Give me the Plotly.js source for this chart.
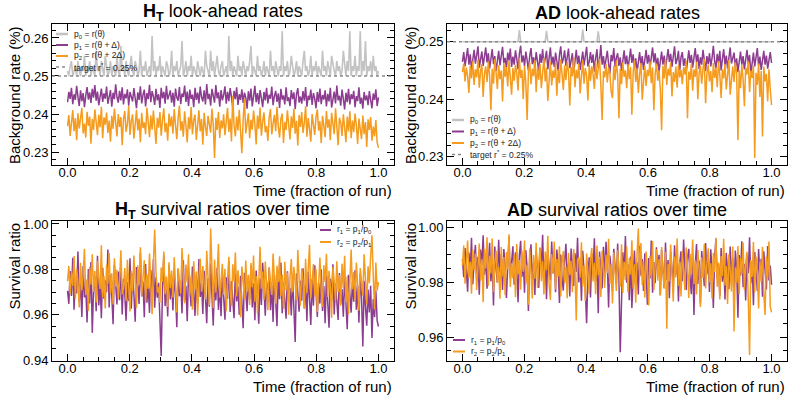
<!DOCTYPE html>
<html><head><meta charset="utf-8">
<script src="https://cdn.plot.ly/plotly-3.0.1.min.js"></script>
<style>html,body{margin:0;padding:0;background:#fff}#chart{width:797px;height:403px}</style>
</head><body><div id="chart"></div>
<script>
// ---------------- DATA ----------------
const targetRate = 0.25;
const xTickVals = [0.0, 0.2, 0.4, 0.6, 0.8, 1.0];

// H_T look-ahead rates (%)
const htP0 = [
0.2513,0.2500,0.2526,0.2539,0.2500,0.2513,0.2526,0.2500,0.2539,0.2513,
0.2500,0.2526,0.2513,0.2553,0.2500,0.2526,0.2513,0.2539,0.2500,0.2526,
0.2513,0.2500,0.2566,0.2513,0.2526,0.2500,0.2539,0.2513,0.2500,0.2553,
0.2526,0.2500,0.2513,0.2539,0.2500,0.2526,0.2513,0.2500,0.2553,0.2513,
0.2500,0.2579,0.2513,0.2526,0.2500,0.2539,0.2513,0.2500,0.2526,0.2553,
0.2513,0.2500,0.2539,0.2526,0.2500,0.2513,0.2566,0.2500,0.2526,0.2513,
0.2539,0.2500,0.2513,0.2526,0.2500,0.2605,0.2513,0.2539,0.2500,0.2526,
0.2513,0.2553,0.2500,0.2526,0.2513,0.2500,0.2539,0.2526,0.2500,0.2513,
0.2566,0.2500,0.2526,0.2513,0.2539,0.2500,0.2513,0.2526,0.2592,0.2500,
0.2513,0.2539,0.2500,0.2526,0.2513,0.2553,0.2500,0.2526,0.2513,0.2500,
0.2539,0.2513,0.2500,0.2526,0.2513,0.2500,0.2566,0.2526,0.2513,0.2500,
0.2566,0.2513,0.2539,0.2500,0.2526,0.2553,0.2513,0.2500,0.2526,0.2539,
0.2500,0.2513,0.2526,0.2500,0.2605,0.2513,0.2539,0.2500,0.2526,0.2513,
0.2500,0.2553,0.2513,0.2526,0.2500,0.2539,0.2513,0.2500,0.2526,0.2513,
0.2539,0.2579,0.2500,0.2526,0.2513,0.2500,0.2553,0.2513,0.2526,0.2500,
0.2513,0.2539,0.2500,0.2526,0.2513,0.2500,0.2566,0.2513,0.2526,0.2500,
0.2539,0.2513,0.2500,0.2526,0.2513,0.2618,0.2500,0.2526,0.2513,0.2539,
0.2500,0.2513,0.2553,0.2526,0.2500,0.2513,0.2539,0.2500,0.2526,0.2513,
0.2500,0.2539,0.2566,0.2513,0.2526,0.2500,0.2513,0.2553,0.2500,0.2526,
0.2513,0.2539,0.2500,0.2526,0.2513,0.2500,0.2566,0.2513,0.2526,0.2500,
0.2539,0.2513,0.2500,0.2553,0.2526,0.2513,0.2500,0.2539,0.2513,0.2526,
0.2500,0.2513,0.2566,0.2526,0.2500,0.2539,0.2513,0.2618,0.2500,0.2526,
0.2513,0.2553,0.2500,0.2526,0.2513,0.2618,0.2500,0.2539,0.2513,0.2592,
0.2500,0.2526,0.2513,0.2539,0.2500,0.2553,0.2513,0.2526,0.2500,0.2513];
const htP1 = [
0.2431,0.2458,0.2440,0.2469,0.2426,0.2452,0.2437,0.2474,0.2445,0.2421,
0.2462,0.2434,0.2455,0.2418,0.2449,0.2471,0.2438,0.2457,0.2429,0.2466,
0.2443,0.2476,0.2435,0.2459,0.2423,0.2451,0.2467,0.2432,0.2454,0.2440,
0.2472,0.2427,0.2448,0.2463,0.2419,0.2456,0.2439,0.2478,0.2444,0.2430,
0.2461,0.2436,0.2470,0.2425,0.2453,0.2441,0.2465,0.2422,0.2458,0.2447,
0.2433,0.2468,0.2442,0.2415,0.2457,0.2437,0.2473,0.2428,0.2450,0.2464,
0.2420,0.2455,0.2439,0.2477,0.2431,0.2460,0.2446,0.2424,0.2466,0.2436,
0.2452,0.2416,0.2469,0.2441,0.2458,0.2427,0.2474,0.2438,0.2449,0.2462,
0.2430,0.2456,0.2419,0.2467,0.2443,0.2435,0.2471,0.2426,0.2454,0.2445,
0.2475,0.2432,0.2459,0.2421,0.2464,0.2440,0.2451,0.2418,0.2469,0.2437,
0.2456,0.2428,0.2472,0.2444,0.2433,0.2462,0.2425,0.2479,0.2439,0.2453,
0.2422,0.2466,0.2448,0.2430,0.2476,0.2441,0.2457,0.2419,0.2463,0.2436,
0.2450,0.2473,0.2427,0.2458,0.2434,0.2468,0.2445,0.2417,0.2461,0.2439,
0.2470,0.2424,0.2452,0.2437,0.2465,0.2429,0.2456,0.2443,0.2414,0.2460,
0.2435,0.2467,0.2420,0.2449,0.2474,0.2431,0.2455,0.2426,0.2463,0.2442,
0.2418,0.2458,0.2436,0.2469,0.2428,0.2451,0.2440,0.2472,0.2423,0.2447,
0.2461,0.2432,0.2454,0.2416,0.2466,0.2438,0.2449,0.2425,0.2470,0.2434,
0.2444,0.2421,0.2463,0.2439,0.2457,0.2413,0.2452,0.2468,0.2430,0.2446,
0.2427,0.2460,0.2435,0.2471,0.2419,0.2448,0.2437,0.2464,0.2424,0.2455,
0.2441,0.2415,0.2458,0.2432,0.2467,0.2426,0.2450,0.2438,0.2462,0.2420,
0.2453,0.2433,0.2469,0.2417,0.2445,0.2459,0.2428,0.2475,0.2436,0.2448,
0.2422,0.2464,0.2440,0.2412,0.2456,0.2431,0.2466,0.2425,0.2452,0.2439,
0.2461,0.2418,0.2447,0.2434,0.2470,0.2427,0.2443,0.2414,0.2458,0.2436,
0.2449,0.2423,0.2460,0.2430,0.2415,0.2454,0.2437,0.2465,0.2421,0.2444];
const htP2 = [
0.2368,0.2397,0.2342,0.2381,0.2410,0.2355,0.2389,0.2331,0.2402,0.2362,
0.2384,0.2416,0.2349,0.2375,0.2338,0.2406,0.2369,0.2393,0.2322,0.2387,
0.2358,0.2412,0.2379,0.2344,0.2398,0.2365,0.2419,0.2336,0.2391,0.2372,
0.2404,0.2350,0.2383,0.2327,0.2395,0.2361,0.2414,0.2377,0.2341,0.2400,
0.2366,0.2392,0.2318,0.2386,0.2408,0.2353,0.2374,0.2421,0.2345,0.2382,
0.2399,0.2335,0.2370,0.2411,0.2357,0.2388,0.2326,0.2403,0.2363,0.2378,
0.2347,0.2417,0.2380,0.2339,0.2396,0.2359,0.2409,0.2373,0.2321,0.2390,
0.2364,0.2405,0.2343,0.2385,0.2415,0.2352,0.2376,0.2330,0.2401,0.2367,
0.2394,0.2348,0.2413,0.2371,0.2334,0.2389,0.2422,0.2356,0.2381,0.2340,
0.2407,0.2369,0.2325,0.2392,0.2360,0.2418,0.2346,0.2384,0.2398,0.2332,
0.2375,0.2410,0.2354,0.2387,0.2319,0.2403,0.2366,0.2342,0.2395,0.2378,
0.2351,0.2414,0.2372,0.2284,0.2390,0.2358,0.2406,0.2337,0.2383,0.2362,
0.2399,0.2344,0.2379,0.2416,0.2353,0.2388,0.2328,0.2448,0.2370,0.2341,
0.2393,0.2357,0.2411,0.2365,0.2297,0.2386,0.2440,0.2349,0.2377,0.2402,
0.2336,0.2385,0.2359,0.2409,0.2373,0.2320,0.2396,0.2361,0.2417,0.2343,
0.2380,0.2404,0.2352,0.2368,0.2329,0.2391,0.2413,0.2346,0.2375,0.2398,
0.2355,0.2419,0.2367,0.2338,0.2387,0.2401,0.2324,0.2379,0.2358,0.2410,
0.2371,0.2333,0.2394,0.2363,0.2414,0.2348,0.2382,0.2317,0.2397,0.2366,
0.2405,0.2350,0.2376,0.2420,0.2340,0.2389,0.2361,0.2327,0.2400,0.2372,
0.2345,0.2392,0.2412,0.2356,0.2381,0.2323,0.2395,0.2369,0.2339,0.2408,
0.2364,0.2386,0.2331,0.2403,0.2374,0.2347,0.2415,0.2357,0.2318,0.2390,
0.2378,0.2342,0.2399,0.2365,0.2326,0.2393,0.2354,0.2407,0.2336,0.2383,
0.2352,0.2401,0.2370,0.2321,0.2388,0.2360,0.2334,0.2396,0.2347,0.2379,
0.2313,0.2386,0.2358,0.2392,0.2330,0.2367,0.2341,0.2384,0.2325,0.2311];

// AD look-ahead rates (%)
const adP0 = [
0.25,0.25,0.25,0.25,0.25,0.25,0.25,0.25,0.25,0.25,0.25,0.25,0.25,0.25,0.25,0.25,0.25,0.25,0.25,0.25,
0.25,0.25,0.25,0.25,0.25,0.25,0.25,0.25,0.25,0.25,0.25,0.25,0.25,0.25,0.25,0.25,0.25,0.25,0.25,0.25,
0.25,0.25,0.25,0.25,0.2520,0.25,0.25,0.25,0.25,0.25,0.25,0.25,0.25,0.25,0.25,0.25,0.25,0.25,0.25,0.25,
0.25,0.25,0.25,0.25,0.25,0.2519,0.25,0.25,0.25,0.25,0.25,0.25,0.25,0.25,0.25,0.25,0.25,0.25,0.25,0.25,
0.25,0.25,0.25,0.25,0.25,0.25,0.25,0.25,0.25,0.25,0.25,0.25,0.25,0.2521,0.25,0.25,0.25,0.25,0.25,0.25,
0.25,0.25,0.25,0.25,0.25,0.2518,0.25,0.25,0.25,0.25,0.25,0.25,0.25,0.25,0.25,0.25,0.25,0.25,0.25,0.25,
0.25,0.25,0.25,0.25,0.25,0.25,0.25,0.25,0.25,0.25,0.25,0.25,0.25,0.25,0.25,0.25,0.25,0.25,0.25,0.25,
0.25,0.25,0.25,0.25,0.25,0.25,0.25,0.25,0.25,0.25,0.25,0.25,0.25,0.25,0.25,0.25,0.25,0.25,0.25,0.25,
0.25,0.25,0.25,0.25,0.25,0.25,0.25,0.25,0.25,0.25,0.25,0.25,0.25,0.25,0.25,0.25,0.25,0.25,0.25,0.25,
0.25,0.25,0.25,0.25,0.25,0.25,0.25,0.25,0.25,0.25,0.25,0.25,0.25,0.25,0.25,0.25,0.25,0.25,0.25,0.25,
0.25,0.25,0.25,0.25,0.25,0.25,0.25,0.25,0.25,0.25,0.25,0.25,0.25,0.25,0.25,0.25,0.25,0.25,0.25,0.25,
0.25,0.25,0.25,0.25,0.25,0.25,0.25,0.25,0.25,0.25,0.25,0.25,0.25,0.25,0.25,0.25,0.25,0.25,0.25,0.25];
const adP1 = [
0.2465,0.2482,0.2457,0.2474,0.2489,0.2460,0.2478,0.2451,0.2469,0.2486,
0.2462,0.2476,0.2492,0.2455,0.2471,0.2483,0.2458,0.2473,0.2490,0.2464,
0.2480,0.2453,0.2468,0.2487,0.2461,0.2475,0.2449,0.2470,0.2484,0.2459,
0.2477,0.2491,0.2463,0.2472,0.2454,0.2481,0.2467,0.2488,0.2456,0.2474,
0.2460,0.2485,0.2470,0.2452,0.2479,0.2493,0.2464,0.2476,0.2458,0.2483,
0.2468,0.2450,0.2475,0.2489,0.2461,0.2473,0.2455,0.2482,0.2466,0.2447,
0.2479,0.2463,0.2487,0.2457,0.2471,0.2484,0.2452,0.2469,0.2490,0.2460,
0.2474,0.2456,0.2481,0.2466,0.2449,0.2477,0.2492,0.2462,0.2470,0.2485,
0.2458,0.2473,0.2488,0.2454,0.2467,0.2480,0.2446,0.2472,0.2486,0.2461,
0.2476,0.2451,0.2469,0.2483,0.2459,0.2474,0.2491,0.2457,0.2465,0.2482,
0.2463,0.2478,0.2448,0.2471,0.2487,0.2455,0.2468,0.2494,0.2460,0.2475,
0.2453,0.2470,0.2484,0.2462,0.2445,0.2477,0.2466,0.2489,0.2456,0.2472,
0.2480,0.2458,0.2473,0.2449,0.2467,0.2485,0.2461,0.2476,0.2452,0.2470,
0.2488,0.2463,0.2478,0.2455,0.2471,0.2447,0.2466,0.2482,0.2459,0.2475,
0.2451,0.2469,0.2486,0.2462,0.2477,0.2454,0.2473,0.2490,0.2464,0.2480,
0.2457,0.2472,0.2448,0.2468,0.2483,0.2460,0.2476,0.2453,0.2470,0.2487,
0.2465,0.2479,0.2456,0.2474,0.2492,0.2461,0.2469,0.2484,0.2450,0.2473,
0.2482,0.2458,0.2471,0.2446,0.2467,0.2485,0.2463,0.2477,0.2455,0.2470,
0.2489,0.2464,0.2478,0.2452,0.2473,0.2460,0.2486,0.2468,0.2449,0.2475,
0.2461,0.2480,0.2457,0.2472,0.2493,0.2466,0.2454,0.2479,0.2463,0.2484,
0.2450,0.2470,0.2487,0.2459,0.2476,0.2453,0.2468,0.2490,0.2462,0.2474,
0.2481,0.2456,0.2471,0.2447,0.2466,0.2483,0.2460,0.2475,0.2452,0.2469,
0.2486,0.2462,0.2477,0.2444,0.2468,0.2481,0.2457,0.2472,0.2489,0.2458,
0.2474,0.2451,0.2467,0.2484,0.2460,0.2476,0.2453,0.2470,0.2482,0.2463];
const adP2 = [
0.2447,0.2462,0.2431,0.2455,0.2440,0.2411,0.2458,0.2436,0.2466,0.2425,
0.2452,0.2438,0.2469,0.2420,0.2449,0.2461,0.2404,0.2444,0.2457,0.2430,
0.2465,0.2441,0.2381,0.2453,0.2427,0.2470,0.2446,0.2418,0.2459,0.2435,
0.2450,0.2396,0.2463,0.2439,0.2456,0.2422,0.2467,0.2443,0.2408,0.2454,
0.2432,0.2460,0.2445,0.2415,0.2471,0.2437,0.2451,0.2400,0.2458,0.2429,
0.2364,0.2448,0.2464,0.2426,0.2453,0.2440,0.2468,0.2412,0.2457,0.2434,
0.2461,0.2419,0.2446,0.2472,0.2431,0.2455,0.2397,0.2442,0.2466,0.2424,
0.2450,0.2437,0.2463,0.2406,0.2452,0.2428,0.2469,0.2444,0.2416,0.2459,
0.2433,0.2465,0.2448,0.2389,0.2456,0.2440,0.2473,0.2421,0.2451,0.2436,
0.2462,0.2410,0.2447,0.2468,0.2427,0.2454,0.2441,0.2398,0.2460,0.2432,
0.2457,0.2443,0.2418,0.2466,0.2435,0.2452,0.2470,0.2425,0.2364,0.2449,
0.2438,0.2461,0.2429,0.2455,0.2444,0.2413,0.2402,0.2458,0.2433,0.2467,
0.2442,0.2367,0.2453,0.2426,0.2464,0.2439,0.2450,0.2419,0.2461,0.2435,
0.2456,0.2373,0.2447,0.2468,0.2430,0.2454,0.2411,0.2445,0.2463,0.2399,
0.2437,0.2459,0.2423,0.2451,0.2440,0.2466,0.2428,0.2455,0.2381,0.2444,
0.2462,0.2432,0.2450,0.2417,0.2346,0.2458,0.2436,0.2469,0.2425,0.2453,
0.2441,0.2464,0.2405,0.2447,0.2430,0.2457,0.2420,0.2460,0.2438,0.2451,
0.2426,0.2456,0.2443,0.2467,0.2367,0.2448,0.2434,0.2462,0.2415,0.2452,
0.2439,0.2465,0.2400,0.2446,0.2458,0.2427,0.2453,0.2470,0.2393,0.2444,
0.2460,0.2431,0.2449,0.2412,0.2463,0.2437,0.2455,0.2421,0.2466,0.2442,
0.2402,0.2452,0.2436,0.2461,0.2417,0.2447,0.2468,0.2408,0.2440,0.2457,
0.2430,0.2464,0.2445,0.2329,0.2451,0.2419,0.2460,0.2435,0.2388,0.2455,
0.2443,0.2466,0.2412,0.2450,0.2437,0.2458,0.2298,0.2446,0.2425,0.2462,
0.2404,0.2449,0.2335,0.2457,0.2431,0.2444,0.2396,0.2452,0.2418,0.2390];

// H_T survival ratios
const htR1 = [
0.9705,0.9648,0.9792,0.9683,0.9851,0.9622,0.9760,0.9694,0.9878,0.9657,
0.9738,0.9590,0.9815,0.9676,0.9724,0.9566,0.9801,0.9650,0.9832,0.9520,
0.9712,0.9769,0.9615,0.9860,0.9641,0.9733,0.9584,0.9807,0.9670,0.9752,
0.9699,0.9887,0.9632,0.9776,0.9686,0.9558,0.9820,0.9718,0.9645,0.9790,
0.9664,0.9831,0.9601,0.9758,0.9692,0.9573,0.9744,0.9661,0.9849,0.9626,
0.9781,0.9690,0.9569,0.9810,0.9711,0.9647,0.9872,0.9680,0.9746,0.9589,
0.9823,0.9653,0.9730,0.9608,0.9797,0.9702,0.9844,0.9631,0.9765,0.9675,
0.9741,0.9580,0.9418,0.9715,0.9862,0.9638,0.9735,0.9592,0.9818,0.9667,
0.9757,0.9619,0.9774,0.9693,0.9545,0.9803,0.9681,0.9749,0.9606,0.9840,
0.9660,0.9727,0.9571,0.9786,0.9689,0.9637,0.9812,0.9716,0.9595,0.9768,
0.9651,0.9845,0.9678,0.9739,0.9603,0.9794,0.9700,0.9562,0.9761,0.9635,
0.9826,0.9684,0.9552,0.9748,0.9663,0.9807,0.9621,0.9736,0.9593,0.9780,
0.9691,0.9578,0.9765,0.9670,0.9834,0.9612,0.9747,0.9680,0.9585,0.9799,
0.9658,0.9724,0.9600,0.9772,0.9646,0.9540,0.9785,0.9697,0.9615,0.9753,
0.9667,0.9813,0.9632,0.9738,0.9576,0.9795,0.9684,0.9560,0.9760,0.9643,
0.9829,0.9672,0.9596,0.9745,0.9655,0.9808,0.9620,0.9731,0.9568,0.9776,
0.9685,0.9549,0.9763,0.9668,0.9830,0.9606,0.9742,0.9677,0.9582,0.9791,
0.9652,0.9719,0.9597,0.9770,0.9639,0.9480,0.9782,0.9694,0.9613,0.9750,
0.9662,0.9805,0.9628,0.9733,0.9571,0.9789,0.9679,0.9555,0.9756,0.9640,
0.9818,0.9666,0.9590,0.9741,0.9649,0.9800,0.9616,0.9726,0.9563,0.9771,
0.9682,0.9543,0.9758,0.9663,0.9822,0.9601,0.9737,0.9672,0.9577,0.9784,
0.9647,0.9713,0.9591,0.9764,0.9634,0.9536,0.9776,0.9688,0.9609,0.9745,
0.9657,0.9796,0.9622,0.9728,0.9565,0.9781,0.9674,0.9460,0.9750,0.9635,
0.9552,0.9711,0.9610,0.9728,0.9498,0.9669,0.9589,0.9706,0.9574,0.9548];
const htR2 = [
0.9748,0.9815,0.9692,0.9786,0.9727,0.9859,0.9670,0.9801,0.9743,0.9632,
0.9829,0.9708,0.9775,0.9891,0.9686,0.9756,0.9617,0.9811,0.9732,0.9866,
0.9700,0.9793,0.9654,0.9838,0.9761,0.9713,0.9906,0.9678,0.9771,0.9627,
0.9820,0.9737,0.9872,0.9695,0.9783,0.9645,0.9849,0.9724,0.9798,0.9671,
0.9752,0.9884,0.9690,0.9716,0.9806,0.9662,0.9842,0.9739,0.9614,0.9793,
0.9703,0.9861,0.9748,0.9631,0.9818,0.9730,0.9897,0.9684,0.9764,0.9840,
0.9659,0.9779,0.9714,0.9870,0.9741,0.9602,0.9826,0.9975,0.9787,0.9697,
0.9722,0.9653,0.9808,0.9745,0.9879,0.9690,0.9768,0.9634,0.9831,0.9717,
0.9795,0.9676,0.9853,0.9733,0.9610,0.9804,0.9760,0.9693,0.9894,0.9729,
0.9651,0.9821,0.9742,0.9866,0.9685,0.9773,0.9622,0.9836,0.9711,0.9790,
0.9597,0.9763,0.9848,0.9701,0.9814,0.9736,0.9667,0.9882,0.9720,0.9642,
0.9980,0.9754,0.9629,0.9843,0.9698,0.9781,0.9913,0.9675,0.9759,0.9824,
0.9688,0.9802,0.9615,0.9767,0.9855,0.9706,0.9638,0.9822,0.9746,0.9874,
0.9680,0.9796,0.9725,0.9589,0.9812,0.9749,0.9667,0.9839,0.9702,0.9776,
0.9643,0.9828,0.9721,0.9861,0.9657,0.9770,0.9605,0.9744,0.9899,0.9715,
0.9790,0.9666,0.9834,0.9738,0.9620,0.9809,0.9752,0.9687,0.9870,0.9731,
0.9648,0.9816,0.9744,0.9858,0.9682,0.9777,0.9626,0.9833,0.9708,0.9786,
0.9600,0.9762,0.9845,0.9699,0.9811,0.9734,0.9664,0.9885,0.9718,0.9640,
0.9803,0.9751,0.9627,0.9846,0.9696,0.9780,0.9908,0.9673,0.9757,0.9823,
0.9686,0.9800,0.9612,0.9765,0.9852,0.9705,0.9635,0.9818,0.9744,0.9868,
0.9678,0.9794,0.9722,0.9586,0.9810,0.9747,0.9663,0.9836,0.9700,0.9775,
0.9640,0.9825,0.9718,0.9860,0.9654,0.9769,0.9602,0.9741,0.9887,0.9712,
0.9788,0.9663,0.9830,0.9735,0.9618,0.9806,0.9750,0.9684,0.9866,0.9728,
0.9645,0.9813,0.9739,0.9855,0.9950,0.9772,0.9623,0.9830,0.9706,0.9744];

// AD survival ratios
const adR1 = [
0.9883,0.9818,0.9924,0.9850,0.9765,0.9907,0.9839,0.9961,0.9792,0.9876,
0.9935,0.9809,0.9892,0.9754,0.9918,0.9861,0.9970,0.9827,0.9899,0.9776,
0.9864,0.9943,0.9802,0.9881,0.9715,0.9929,0.9846,0.9798,0.9954,0.9834,
0.9901,0.9771,0.9920,0.9855,0.9742,0.9887,0.9965,0.9813,0.9872,0.9930,
0.9790,0.9908,0.9843,0.9727,0.9896,0.9950,0.9819,0.9879,0.9761,0.9916,
0.9854,0.9695,0.9889,0.9937,0.9805,0.9870,0.9753,0.9911,0.9841,0.9779,
0.9925,0.9848,0.9972,0.9796,0.9884,0.9738,0.9913,0.9860,0.9807,0.9947,
0.9831,0.9893,0.9763,0.9918,0.9852,0.9724,0.9900,0.9815,0.9769,0.9877,
0.9939,0.9810,0.9869,0.9748,0.9922,0.9858,0.9786,0.9905,0.9837,0.9961,
0.9799,0.9882,0.9732,0.9914,0.9849,0.9772,0.9650,0.9821,0.9890,0.9744,
0.9903,0.9836,0.9959,0.9800,0.9875,0.9687,0.9911,0.9853,0.9777,0.9928,
0.9821,0.9946,0.9871,0.9708,0.9896,0.9842,0.9765,0.9921,0.9857,0.9793,
0.9940,0.9815,0.9545,0.9743,0.9908,0.9829,0.9967,0.9798,0.9865,0.9734,
0.9893,0.9706,0.9848,0.9915,0.9789,0.9872,0.9755,0.9932,0.9824,0.9884,
0.9768,0.9905,0.9841,0.9718,0.9887,0.9813,0.9951,0.9761,0.9873,0.9796,
0.9926,0.9834,0.9899,0.9752,0.9917,0.9862,0.9779,0.9944,0.9808,0.9880,
0.9741,0.9910,0.9856,0.9787,0.9934,0.9826,0.9895,0.9729,0.9869,0.9912,
0.9803,0.9955,0.9844,0.9771,0.9886,0.9921,0.9817,0.9756,0.9902,0.9680,
0.9864,0.9938,0.9793,0.9878,0.9722,0.9913,0.9851,0.9785,0.9942,0.9828,
0.9897,0.9764,0.9919,0.9839,0.9706,0.9890,0.9957,0.9811,0.9867,0.9749,
0.9924,0.9801,0.9876,0.9737,0.9906,0.9845,0.9774,0.9929,0.9819,0.9888,
0.9758,0.9915,0.9850,0.9670,0.9898,0.9823,0.9948,0.9781,0.9866,0.9733,
0.9901,0.9832,0.9963,0.9795,0.9874,0.9716,0.9909,0.9843,0.9768,0.9920,
0.9816,0.9885,0.9747,0.9912,0.9837,0.9773,0.9931,0.9806,0.9860,0.9790];
const adR2 = [
0.9860,0.9933,0.9794,0.9889,0.9951,0.9815,0.9874,0.9758,0.9918,0.9842,
0.9904,0.9771,0.9865,0.9940,0.9806,0.9882,0.9727,0.9921,0.9849,0.9963,
0.9787,0.9896,0.9831,0.9958,0.9763,0.9873,0.9914,0.9798,0.9855,0.9739,
0.9927,0.9820,0.9891,0.9752,0.9909,0.9846,0.9974,0.9782,0.9868,0.9813,
0.9900,0.9745,0.9938,0.9829,0.9880,0.9772,0.9915,0.9838,0.9951,0.9793,
0.9863,0.9718,0.9922,0.9851,0.9740,0.9898,0.9812,0.9943,0.9779,0.9871,
0.9925,0.9803,0.9876,0.9755,0.9911,0.9844,0.9968,0.9790,0.9735,0.9902,
0.9831,0.9947,0.9774,0.9884,0.9820,0.9930,0.9748,0.9869,0.9913,0.9797,
0.9855,0.9741,0.9906,0.9825,0.9877,0.9763,0.9920,0.9848,0.9660,0.9882,
0.9890,0.9816,0.9945,0.9784,0.9861,0.9730,0.9904,0.9838,0.9757,0.9882,
0.9924,0.9802,0.9869,0.9756,0.9933,0.9825,0.9892,0.9746,0.9914,0.9851,
0.9779,0.9899,0.9833,0.9957,0.9793,0.9865,0.9722,0.9908,0.9841,0.9768,
0.9916,0.9850,0.9783,0.9937,0.9760,0.9874,0.9807,0.9929,0.9762,0.9887,
0.9828,0.9952,0.9776,0.9865,0.9725,0.9901,0.9995,0.9818,0.9942,0.9789,
0.9873,0.9744,0.9911,0.9835,0.9715,0.9896,0.9822,0.9949,0.9770,0.9858,
0.9919,0.9805,0.9884,0.9751,0.9927,0.9840,0.9776,0.9910,0.9630,0.9866,
0.9802,0.9936,0.9851,0.9729,0.9893,0.9817,0.9958,0.9786,0.9875,0.9748,
0.9912,0.9834,0.9770,0.9926,0.9861,0.9742,0.9903,0.9827,0.9955,0.9792,
0.9879,0.9755,0.9917,0.9845,0.9709,0.9890,0.9814,0.9938,0.9777,0.9862,
0.9923,0.9799,0.9868,0.9740,0.9906,0.9836,0.9961,0.9783,0.9871,0.9737,
0.9895,0.9821,0.9957,0.9788,0.9858,0.9720,0.9901,0.9843,0.9766,0.9929,
0.9620,0.9852,0.9798,0.9931,0.9756,0.9887,0.9829,0.9944,0.9771,0.9866,
0.9910,0.9738,0.9535,0.9880,0.9819,0.9946,0.9762,0.9893,0.9835,0.9704,
0.9875,0.9801,0.9928,0.9756,0.9680,0.9893,0.9816,0.9947,0.9711,0.9690];

// time axis: samples evenly spread over the run
const time = htP1.map((_, i) => i / (htP1.length - 1));

// ---------------- STYLE / LAYOUT ----------------
const W = 797, H = 403;
const FONT = 'Liberation Sans, Arial, Helvetica, sans-serif';
const GRAY = '#c3c3c3', PURPLE = '#8c3d8f', ORANGE = '#f59b1e', TARGET = '#8a8a8a';
const px = x => x / W, py = y => 1 - y / H;

const panels = {
  tl: {x0: 52, x1: 394, y0: 24, y1: 165},
  tr: {x0: 447, x1: 787, y0: 24, y1: 165},
  bl: {x0: 52, x1: 394, y0: 221, y1: 361},
  br: {x0: 447, x1: 787, y0: 221, y1: 361}
};

function xax(p, anchor) {
  return {
    domain: [px(p.x0), px(p.x1)], anchor: anchor, range: [-0.05, 1.05],
    tickmode: 'array', tickvals: xTickVals, ticktext: xTickVals.map(v => v.toFixed(1)),
    ticks: 'inside', ticklen: 7, tickwidth: 1, tickcolor: '#000', ticklabelstandoff: -5,
    minor: {dtick: 0.05, tick0: 0, ticks: 'inside', ticklen: 4, tickwidth: 1, tickcolor: '#000'},
    showline: true, linecolor: '#000', linewidth: 1, mirror: 'allticks',
    showgrid: false, zeroline: false,
    tickfont: {family: FONT, size: 13, color: '#000'}
  };
}
function yax(p, anchor, range, dtick, mdtick) {
  return {
    domain: [py(p.y1), py(p.y0)], anchor: anchor, range: range,
    dtick: dtick, tick0: 0, tickformat: '.2f',
    ticks: 'inside', ticklen: 7, tickwidth: 1, tickcolor: '#000',
    minor: {dtick: mdtick, tick0: 0, ticks: 'inside', ticklen: 4, tickwidth: 1, tickcolor: '#000'},
    showline: true, linecolor: '#000', linewidth: 1, mirror: 'allticks',
    showgrid: false, zeroline: false,
    tickfont: {family: FONT, size: 13, color: '#000'}
  };
}

function line(x, y, xa, ya, color, w) {
  return {type: 'scatter', mode: 'lines', x: x, y: y, xaxis: xa, yaxis: ya,
          line: {color: color, width: w || 1.5}, hoverinfo: 'skip', showlegend: false};
}

const data = [
  line(time, htP0, 'x', 'y', GRAY, 1.6), line(time, htP1, 'x', 'y', PURPLE), line(time, htP2, 'x', 'y', ORANGE),
  line(time, adP0, 'x2', 'y2', GRAY, 1.6), line(time, adP1, 'x2', 'y2', PURPLE), line(time, adP2, 'x2', 'y2', ORANGE),
  line(time, htR1, 'x3', 'y3', PURPLE), line(time, htR2, 'x3', 'y3', ORANGE),
  line(time, adR1, 'x4', 'y4', PURPLE), line(time, adR2, 'x4', 'y4', ORANGE)
];

const annotations = [], shapes = [];
function ann(text, x, y, opts) {
  annotations.push(Object.assign({text: text, x: px(x), y: py(y), xref: 'paper', yref: 'paper',
    xanchor: 'center', yanchor: 'middle',
    showarrow: false, font: {family: FONT, size: 15, color: '#000'}}, opts || {}));
}
// titles
const TF = {family: FONT, size: 18, color: '#000'};
ann('<b>H<sub>T</sub></b> look-ahead rates', 223, 13, {font: TF});
ann('<b>AD</b> look-ahead rates', 617, 13, {font: TF});
ann('<b>H<sub>T</sub></b> survival ratios over time', 223, 210, {font: TF});
ann('<b>AD</b> survival ratios over time', 617, 210, {font: TF});
// axis titles
[['tl','Background rate (%)',14],['tr','Background rate (%)',410],['bl','Survival ratio',14],['br','Survival ratio',410]].forEach(a => {
  const p = panels[a[0]];
  ann(a[1], a[2], p.y0, {textangle: -90, xanchor: 'center', yanchor: 'top'});
  ann('Time (fraction of run)', p.x1, p.y1 + 25, {xanchor: 'right', yanchor: 'middle'});
});

// target lines
['y', 'y2'].forEach((ya, k) => {
  shapes.push({type: 'line', xref: (k ? 'x2' : 'x') + ' domain', x0: 0, x1: 1, yref: ya,
    y0: targetRate, y1: targetRate, line: {color: TARGET, width: 1.5, dash: 'dot'}, layer: 'above'});
});

// compact legends
function legend(entries, lx0, lx1, tx, ys) {
  entries.forEach((e, i) => {
    shapes.push({type: 'line', xref: 'paper', yref: 'paper', x0: px(lx0), x1: px(lx1), y0: py(ys[i]), y1: py(ys[i]),
      line: {color: e.c, width: e.w, dash: e.d || 'solid'}});
    ann(e.t, tx, ys[i], {xanchor: 'left', yanchor: 'middle', font: {family: FONT, size: 8.5, color: '#222'}});
  });
}
const rateEntries = [
  {t: 'p<sub>0</sub> = r(θ)', c: GRAY, w: 2.5},
  {t: 'p<sub>1</sub> = r(θ + Δ)', c: PURPLE, w: 2},
  {t: 'p<sub>2</sub> = r(θ + 2Δ)', c: ORANGE, w: 2},
  {t: 'target r<sup>*</sup> = 0.25%', c: TARGET, w: 1.5, d: 'dot'}
];
const ratioEntries = [
  {t: 'r<sub>1</sub> = p<sub>1</sub>/p<sub>0</sub>', c: PURPLE, w: 2},
  {t: 'r<sub>2</sub> = p<sub>2</sub>/p<sub>1</sub>', c: ORANGE, w: 2}
];
legend(rateEntries, 56, 68, 72, [34, 45, 56, 67]);
legend(rateEntries, 452, 464, 468, [120, 131.5, 143, 154.5]);
legend(ratioEntries, 320, 331, 335, [230, 242]);
legend(ratioEntries, 453, 465, 469, [340, 351.5]);

const layout = {
  width: W, height: H, margin: {l: 0, r: 0, t: 0, b: 0},
  paper_bgcolor: '#fff', plot_bgcolor: '#fff', showlegend: false,
  font: {family: FONT, color: '#000'},
  xaxis: xax(panels.tl, 'y'), yaxis: yax(panels.tl, 'x', [0.22658, 0.26368], 0.01, 0.002),
  xaxis2: xax(panels.tr, 'y2'), yaxis2: yax(panels.tr, 'x2', [0.22856, 0.25308], 0.01, 0.002),
  xaxis3: xax(panels.bl, 'y3'), yaxis3: yax(panels.bl, 'x3', [0.9396, 1.0013], 0.02, 0.005),
  xaxis4: xax(panels.br, 'y4'), yaxis4: yax(panels.br, 'x4', [0.9513, 1.0022], 0.02, 0.005),
  annotations: annotations, shapes: shapes
};
Plotly.newPlot('chart', data, layout, {staticPlot: true, displayModeBar: false});
</script></body></html>
